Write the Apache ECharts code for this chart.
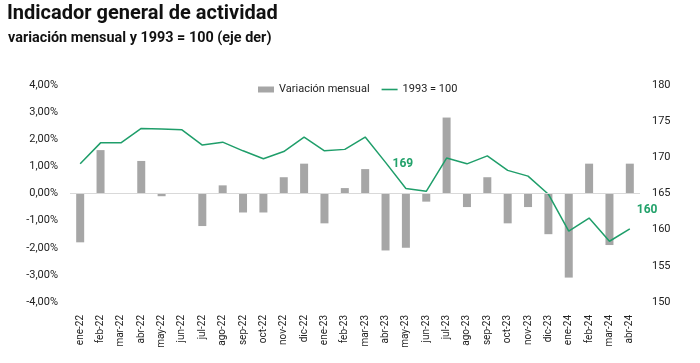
<!DOCTYPE html>
<html><head><meta charset="utf-8">
<script src="https://cdn.jsdelivr.net/npm/echarts@6/dist/echarts.min.js"></script>
<style>html,body{margin:0;padding:0;background:#fff}#c{width:700px;height:363px}</style>
</head><body><div id="c"></div>
<script>
const categories = ['ene-22','feb-22','mar-22','abr-22','may-22','jun-22','jul-22','ago-22','sep-22','oct-22','nov-22','dic-22','ene-23','feb-23','mar-23','abr-23','may-23','jun-23','jul-23','ago-23','sep-23','oct-23','nov-23','dic-23','ene-24','feb-24','mar-24','abr-24'];
const variacionMensual = [-1.8,1.6,0,1.2,-0.1,0,-1.2,0.3,-0.7,-0.7,0.6,1.1,-1.1,0.2,0.9,-2.1,-2.0,-0.3,2.8,-0.5,0.6,-1.1,-0.5,-1.5,-3.1,1.1,-1.9,1.1];
const indice1993 = [169.1,172.0,172.0,174.0,173.9,173.8,171.7,172.1,170.9,169.8,170.8,172.8,170.9,171.1,172.8,169.3,165.7,165.3,169.9,169.1,170.2,168.2,167.4,164.9,159.8,161.6,158.4,160.1];
const leftTicks = {min:-4, max:4, interval:1};
const rightTicks = {min:150, max:180, interval:5};
const labeledPoints = {15:[2,2], 27:[2,-19]};

const FONT = 'Roboto';
const lineData = indice1993.map((v,i)=>{
  if (labeledPoints[i]) {
    return {value:v, label:{show:true, position:'right', offset:labeledPoints[i],
      formatter:p=>Math.round(p.value), color:'#23a26b', fontWeight:'bold', fontSize:12, fontFamily:FONT}};
  }
  return v;
});

const chart = echarts.init(document.getElementById('c'), null, {renderer:'canvas'});
chart.setOption({
  animation:false,
  textStyle:{fontFamily:FONT},
  graphic:[
    {type:'text', left:7, top:4, style:{text:'Indicador general de actividad', font:'bold 20px Roboto', fill:'#111'}},
    {type:'text', left:8, top:31, scaleX:0.96, style:{text:'variación mensual y 1993 = 100 (eje der)', font:'bold 15px Roboto', fill:'#111'}}
  ],
  legend:{left:253, top:79, itemWidth:16, itemHeight:6, itemGap:12, itemTextGap:3,
    textStyle:{fontSize:11, color:'#222', fontFamily:FONT},
    data:[{name:'Variación mensual', icon:'rect'},{name:'1993 = 100', icon:'path://M0,0 L20,0 L20,2 L0,2 Z'}]},
  grid:{left:70, right:60, top:85, bottom:61},
  xAxis:{type:'category', data:categories, axisLine:{show:false}, axisTick:{show:false},
    axisLabel:{rotate:90, interval:0, fontSize:10, color:'#222', margin:13}},
  yAxis:[
    {type:'value', min:leftTicks.min, max:leftTicks.max, interval:leftTicks.interval,
      splitLine:{show:false}, axisLine:{show:false}, axisTick:{show:false},
      axisLabel:{fontSize:11, color:'#222', margin:12, formatter:v=>v.toFixed(2).replace('.',',')+'%'}},
    {type:'value', min:rightTicks.min, max:rightTicks.max, interval:rightTicks.interval,
      splitLine:{show:false}, axisLine:{show:false}, axisTick:{show:false},
      axisLabel:{fontSize:11, color:'#222', margin:12}}
  ],
  series:[
    {name:'Variación mensual', type:'bar', yAxisIndex:0, data:variacionMensual, barWidth:8,
      itemStyle:{color:'#a6a6a6'},
      markLine:{silent:true, symbol:'none', label:{show:false}, lineStyle:{color:'#d9d9d9', type:'solid', width:1},
        data:[{yAxis:0}]}},
    {name:'1993 = 100', type:'line', yAxisIndex:1, data:lineData, symbol:'circle', symbolSize:0.01, showSymbol:true,
      lineStyle:{color:'#1f9e6a', width:1.5}, itemStyle:{color:'#1f9e6a'}}
  ]
});
</script></body></html>
